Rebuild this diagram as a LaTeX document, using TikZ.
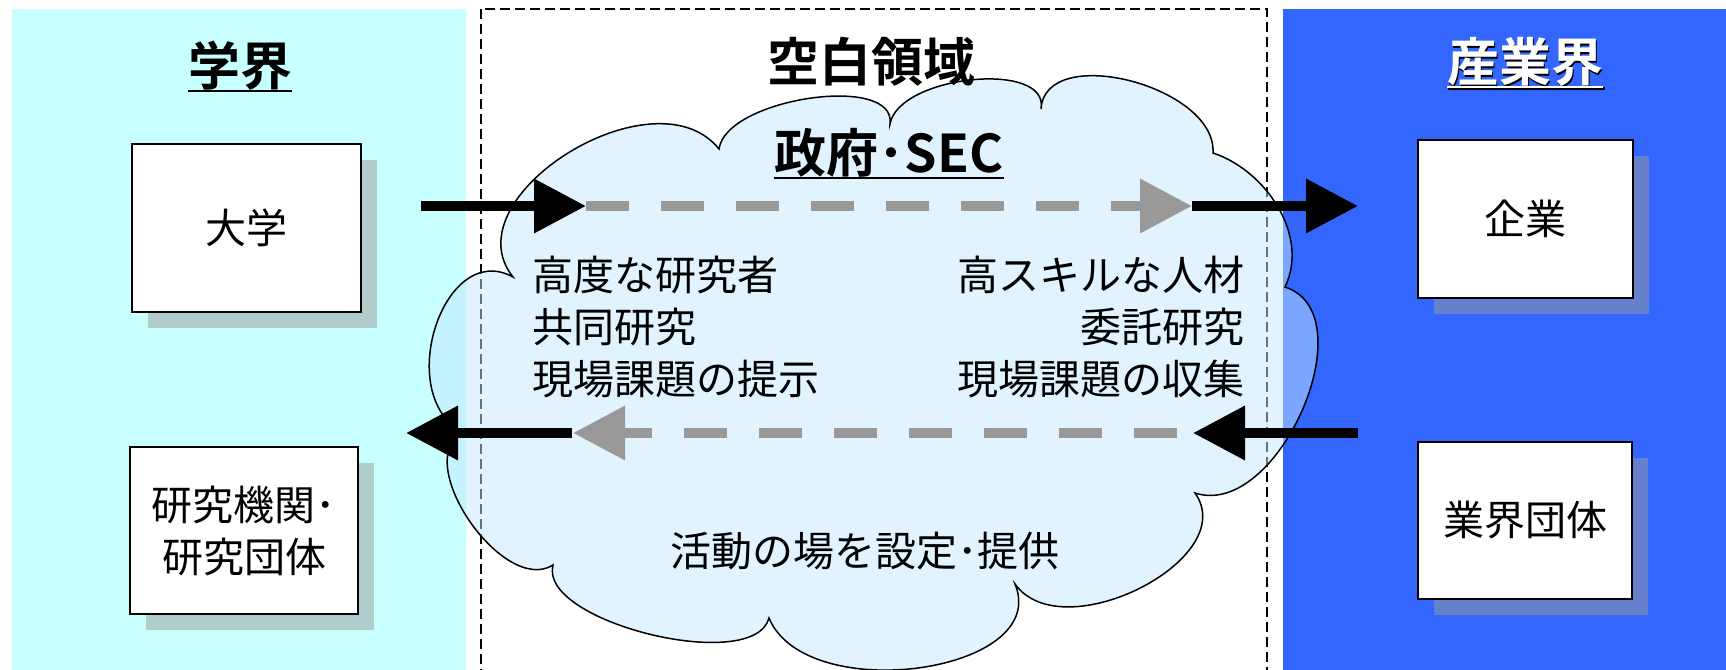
\documentclass[tikz,border=0pt]{standalone}
\usepackage{fontspec}
\setmainfont{Noto Sans CJK JP}[BoldFont={Noto Sans CJK JP Bold}]
\usetikzlibrary{arrows.meta,shadows}

\definecolor{acadbg}{HTML}{C8FFFF}
\definecolor{indbg}{HTML}{3366FF}
\definecolor{acadshade}{HTML}{B0CCCC}
\definecolor{indshade}{HTML}{6680CC}
\definecolor{cloudc}{RGB}{193,231,255}
\definecolor{flowgray}{HTML}{999999}

\begin{document}
\begin{tikzpicture}[x=0.5pt,y=-0.5pt,
  ttl/.style={inner sep=0, font=\fontsize{26}{30}\selectfont\bfseries},
  txt/.style={inner sep=0, font=\fontsize{20.5}{26}\selectfont},
  box/.style={draw, line width=1pt, fill=white, align=center, inner sep=0,
    font=\fontsize{20.5}{26}\selectfont},
  acadbox/.style={box, drop shadow={shadow xshift=8pt, shadow yshift=-8pt, fill=acadshade, opacity=1}},
  indbox/.style={box, drop shadow={shadow xshift=8pt, shadow yshift=-8pt, fill=indshade, opacity=1}},
  bigarrow/.style={line width=5pt, -{Triangle[length=26pt,width=26pt]}},
  flowarrow/.style={bigarrow, draw=flowgray, dash pattern=on 21.5pt off 16pt}]
\clip (0,0) rectangle (1726,670);
% panels
\fill[acadbg] (12,9) rectangle (466,670);
\fill[indbg] (1283,9) rectangle (1726,670);
\draw[line width=0.75pt, dash pattern=on 5pt off 2.5pt] (481,9) rectangle (1267,700);
% cloud
\draw[line width=0.75pt, fill=cloudc, fill opacity=0.5] (513,277)
  .. controls (449,197) and (655,69) .. (719,149)
  .. controls (726,98) and (897,73) .. (890,124)
  .. controls (899,75) and (1050,60) .. (1041,109)
  .. controls (1045,42) and (1217,86) .. (1213,153)
  .. controls (1265,170) and (1310,235) .. (1285,287)
  .. controls (1368,314) and (1278,520) .. (1195,493)
  .. controls (1242,559) and (1062,650) .. (1015,584)
  .. controls (1052,673) and (806,707) .. (769,618)
  .. controls (754,675) and (538,622) .. (553,565)
  .. controls (504,596) and (411,463) .. (462,432)
  .. controls (393,394) and (444,239) .. (513,277) -- cycle;
% titles
\node[ttl] (acad) at (240,66) {学界};
\draw[line width=1.2pt] (acad.south west) -- (acad.south east);
\node[ttl] (blank) at (871,62) {空白領域};
\node[ttl] (indsh) at (1526.5,63.5) {産業界};
\draw[line width=1.2pt] (indsh.south west) -- (indsh.south east);
\node[ttl, text=white] (ind) at (1525,62) {産業界};
\draw[white, line width=1.2pt] (ind.south west) -- (ind.south east);
\node[ttl] (gov) at (889,153) {政府･SEC};
\draw[line width=1.2pt] (gov.south west) -- (gov.south east);
% texts in the cloud
\node[txt, anchor=west, align=left] (give) at (532,327) {高度な研究者\\共同研究\\現場課題の提示};
\node[txt, anchor=east, align=right] (take) at (1245,327) {高スキルな人材\\委託研究\\現場課題の収集};
\node[txt] (field) at (865,551) {活動の場を設定･提供};
% boxes
\node[acadbox, minimum width=114.5pt, minimum height=84pt] (univ) at (246.5,228) {大学};
\node[acadbox, minimum width=114pt, minimum height=83.5pt] (inst) at (244,530.5) {研究機関･\\研究団体};
\node[indbox, minimum width=107.5pt, minimum height=79pt] (firm) at (1525.5,219) {企業};
\node[indbox, minimum width=107pt, minimum height=78.5pt] (assoc) at (1525,520.5) {業界団体};
% arrows
\coordinate (t1) at (421,206);
\coordinate (t2) at (586,206);
\coordinate (t3) at (1192,206);
\coordinate (t4) at (1358,206);
\coordinate (b1) at (1358,433);
\coordinate (b2) at (1193,433);
\coordinate (b3) at (1177,433);
\coordinate (b4) at (573,433);
\coordinate (b5) at (572,433);
\coordinate (b6) at (406,433);
\draw[bigarrow] (t1) -- (t2);
\draw[flowarrow] (t2) -- (t3);
\draw[bigarrow] (t3) -- (t4);
\draw[bigarrow] (b1) -- (b2);
\draw[flowarrow] (b3) -- (b4);
\draw[bigarrow] (b5) -- (b6);
\end{tikzpicture}
\end{document}
